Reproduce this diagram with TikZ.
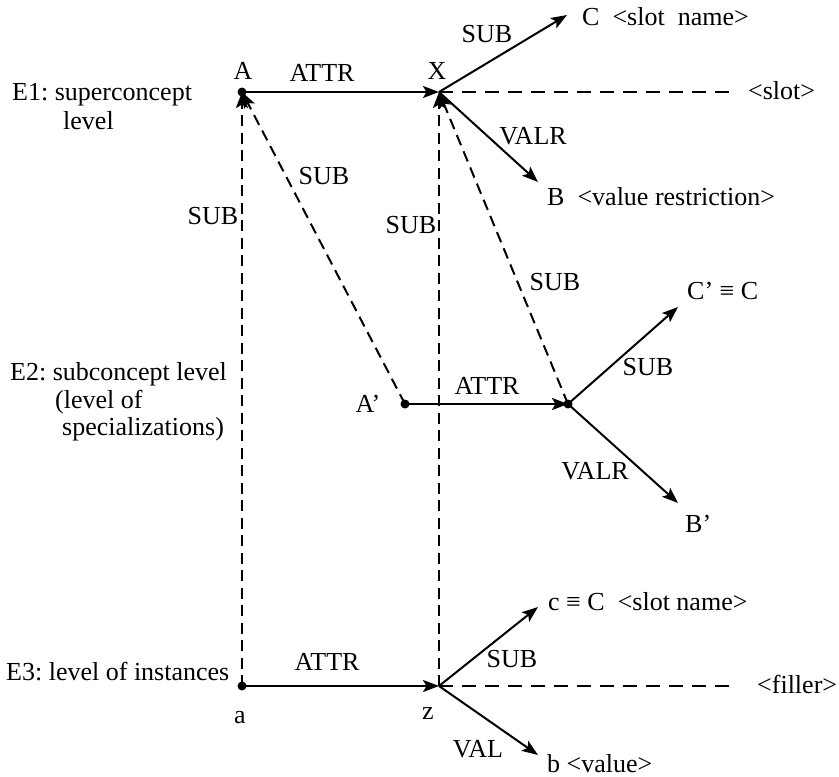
\documentclass[tikz,border=0pt]{standalone}
\usepackage{fontspec}
\setmainfont{Liberation Serif}
\usetikzlibrary{arrows.meta}
\frenchspacing
\begin{document}
\begin{tikzpicture}[x=1pt,y=-1pt,
  every node/.style={font=\fontsize{26}{29}\selectfont, inner sep=0pt,
    text height=0.68em, text depth=0.22em},
  pt/.style={circle, fill=black, minimum size=9pt, inner sep=0pt,
    text height=, text depth=},
  junction/.style={coordinate},
  rel/.style={line width=2pt, -{Stealth[length=16pt,width=12pt,inset=3.5pt]}},
  sublink/.style={rel, dash pattern=on 11pt off 6.5pt},
  slotline/.style={line width=1.8pt, dash pattern=on 14pt off 9pt},
  lbl/.style={anchor=center, yshift=-5pt},
  txt/.style={anchor=west, yshift=-5pt}]
\useasboundingbox (0,0) rectangle (839,777);

% concept points
\node[pt] (A)  at (242,92)  {};
\node[junction] (X) at (439,92) {};
\node[pt] (Ap) at (405,404) {};
\node[pt] (Y)  at (568,404) {};
\node[pt] (a)  at (242,686) {};
\node[junction] (z) at (439,686) {};

% targets of the outgoing arrows
\node[junction] (C)  at (567,15)  {};
\node[junction] (B)  at (538,182) {};
\node[junction] (Cp) at (678,307) {};
\node[junction] (Bp) at (678,503) {};
\node[junction] (c)  at (538,607) {};
\node[junction] (b)  at (538,755) {};
\node[junction] (slotend)   at (735,92)  {};
\node[junction] (fillerend) at (733,686) {};

% level E1
\draw[rel] (A.center) -- (X);
\draw[rel] (X) -- (C);
\draw[rel] (X) -- (B);
\draw[slotline] (X) -- (slotend);

% level E2
\draw[rel] (Ap.center) -- (Y.center);
\draw[rel] (Y.center) -- (Cp);
\draw[rel] (Y.center) -- (Bp);

% level E3
\draw[rel] (a.center) -- (z);
\draw[rel] (z) -- (c);
\draw[rel] (z) -- (b);
\draw[slotline] (z) -- (fillerend);

% specialisation links between levels
\draw[sublink] (a.center) -- (A.center);
\draw[sublink] (Ap.center) -- (A.center);
\draw[sublink] (z) -- (X);
\draw[sublink] (Y.center) -- (X);

% point names
\node[lbl] (lA)  at (243,72)  {A};
\node[lbl] (lX)  at (437,72)  {X};
\node[lbl] (lAp) at (368,405) {A’};
\node[lbl] (la)  at (240,716) {a};
\node[lbl] (lz)  at (428,712) {z};

% relation labels
\node[lbl] (r1)  at (322,74)  {ATTR};
\node[lbl] (r2)  at (487,35)  {SUB};
\node[lbl] (r3)  at (533,137) {VALR};
\node[lbl] (r4)  at (213,217) {SUB};
\node[lbl] (r5)  at (324,177) {SUB};
\node[lbl] (r6)  at (411,226) {SUB};
\node[lbl] (r7)  at (555,283) {SUB};
\node[lbl] (r8)  at (487,387) {ATTR};
\node[lbl] (r9)  at (648,368) {SUB};
\node[lbl] (r10) at (595,472) {VALR};
\node[lbl] (r11) at (327,663) {ATTR};
\node[lbl] (r12) at (512,660) {SUB};
\node[lbl] (r13) at (478,750) {VAL};

% target texts
\node[txt] (tC)  at (582,18)  {C\ \ <slot\ \ name>};
\node[txt] (tB)  at (547,198) {B\ \ <value restriction>};
\node[txt] (ts)  at (748,92)  {<slot>};
\node[txt] (tCp) at (687,292) {C’ ≡\ C};
\node[txt] (tBp) at (685,525) {B’};
\node[txt] (tc)  at (548,603) {c ≡ C\ \ <slot name>};
\node[txt] (tf)  at (757,686) {<filler>};
\node[txt] (tb)  at (547,765) {b <value>};

% level captions
\node[txt] (e1a) at (12,93)  {E1: superconcept};
\node[txt] (e1b) at (63,122) {level};
\node[txt] (e2a) at (10,373) {E2: subconcept level};
\node[txt] (e2b) at (55,401) {(level of};
\node[txt] (e2c) at (62,428) {specializations)};
\node[txt] (e3)  at (6,673)  {E3: level of instances};
\end{tikzpicture}
\end{document}
